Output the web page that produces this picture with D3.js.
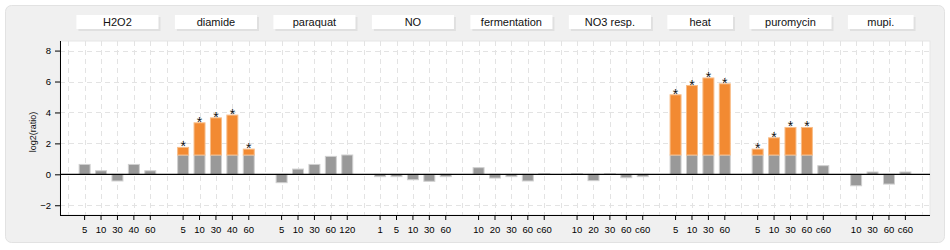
<!DOCTYPE html>
<html>
<head>
<meta charset="utf-8">
<script src="https://cdn.jsdelivr.net/npm/d3@7"></script>
<style>
  body { margin: 0; background: #fff; }
  svg { display: block; font-family: "Liberation Sans", Arial, sans-serif; }
</style>
</head>
<body>
<div id="chart"></div>
<script>
// conditions and their time points
let groupNames = ['H2O2', 'diamide', 'paraquat', 'NO', 'fermentation', 'NO3 resp.', 'heat', 'puromycin', 'mupi.']
let timeLabels = [
  ['5', '10', '30', '40', '60'],
  ['5', '10', '30', '40', '60'],
  ['5', '10', '30', '60', '120'],
  ['1', '5', '10', '30', '60'],
  ['10', '20', '30', '60', 'c60'],
  ['10', '20', '30', '60', 'c60'],
  ['5', '10', '30', '60'],
  ['5', '10', '30', '60', 'c60'],
  ['10', '30', '60', 'c60']
]
let logRatios = [
  [0.64, 0.23, -0.43, 0.64, 0.23],
  [1.74, 3.33, 3.65, 3.83, 1.63],
  [-0.54, 0.34, 0.64, 1.16, 1.25],
  [-0.15, -0.15, -0.35, -0.45, -0.15],
  [0.43, -0.24, -0.15, -0.43, 0.05],
  [0.04, -0.41, 0.04, -0.22, -0.15],
  [5.14, 5.74, 6.23, 5.85],
  [1.63, 2.36, 3.03, 3.03, 0.56],
  [-0.74, 0.15, -0.63, 0.15]
]
let significant = [
  [0, 0, 0, 0, 0],
  [1, 1, 1, 1, 1],
  [0, 0, 0, 0, 0],
  [0, 0, 0, 0, 0],
  [0, 0, 0, 0, 0],
  [0, 0, 0, 0, 0],
  [1, 1, 1, 1],
  [1, 1, 1, 1, 0],
  [0, 0, 0, 0]
]
let threshold = 1.25
let yTicks = [-2, 0, 2, 4, 6, 8]

let width = 950, height = 250
let plotLeft = 60, plotRight = 930, plotTop = 41, plotBottom = 215

let grayColor = '#999999'
let orangeColor = '#f28a32'

// build slots: one empty slot before each group and one at the end
let slots = []
let bars = []
groupNames.forEach(function (g, gi) {
  slots.push('gap' + gi)
  timeLabels[gi].forEach(function (t, ti) {
    let key = g + '|' + t
    slots.push(key)
    bars.push({ key: key, label: t, group: gi, value: logRatios[gi][ti], sig: significant[gi][ti] })
  })
})
slots.push('gapEnd')

let x = d3.scaleBand().domain(slots).range([plotLeft, plotRight]).paddingInner(0.27).paddingOuter(0.135)
let step = x.step()
let y = d3.scaleLinear().domain([-2.63, 8.62]).range([plotBottom, plotTop])
let cx = function (k) { return x(k) + x.bandwidth() / 2 }

let svg = d3.select('#chart').append('svg')
  .attr('width', width)
  .attr('height', height)

// outer panel
svg.append('rect')
  .attr('x', 5.5).attr('y', 5.5)
  .attr('width', 939).attr('height', 237)
  .attr('rx', 6)
  .style('fill', '#f0f0f0')
  .style('stroke', '#e2e2e2')

// plot background
svg.append('rect')
  .attr('x', plotLeft).attr('y', plotTop)
  .attr('width', plotRight - plotLeft).attr('height', plotBottom - plotTop)
  .style('fill', '#fff')
  .style('stroke', '#e6e6e6')

// group label boxes
let boxes = svg.selectAll('.gbox')
  .data(groupNames)
  .enter()
  .append('g')
  .attr('class', 'gbox')
boxes.each(function (g, gi) {
  let first = g + '|' + timeLabels[gi][0]
  let last = g + '|' + timeLabels[gi][timeLabels[gi].length - 1]
  let x0 = cx(first) - step / 2
  let x1 = cx(last) + step / 2
  let sel = d3.select(this)
  sel.append('rect')
    .attr('x', x0 + 2).attr('y', 17)
    .attr('width', x1 - x0).attr('height', 14)
    .style('fill', '#e0e0e0')
  sel.append('rect')
    .attr('x', x0).attr('y', 15)
    .attr('width', x1 - x0).attr('height', 14)
    .style('fill', '#fff')
  sel.append('text')
    .attr('x', (x0 + x1) / 2).attr('y', 26)
    .attr('text-anchor', 'middle')
    .style('font-size', '11px')
    .style('fill', '#111')
    .text(g)
})

// grid lines
svg.selectAll('.vgrid')
  .data(slots)
  .enter()
  .append('line')
  .attr('x1', function (d) { return Math.round(cx(d)) + 0.5 })
  .attr('x2', function (d) { return Math.round(cx(d)) + 0.5 })
  .attr('y1', plotTop).attr('y2', plotBottom)
  .style('stroke', '#e3e3e3')
  .style('stroke-dasharray', '5,4')

svg.selectAll('.hgrid')
  .data(yTicks.filter(function (d) { return d !== 0 }))
  .enter()
  .append('line')
  .attr('x1', plotLeft).attr('x2', plotRight)
  .attr('y1', function (d) { return Math.round(y(d)) + 0.5 })
  .attr('y2', function (d) { return Math.round(y(d)) + 0.5 })
  .style('stroke', '#e3e3e3')
  .style('stroke-dasharray', '5,4')

// gray part of each bar
svg.selectAll('.gray')
  .data(bars)
  .enter()
  .append('rect')
  .attr('x', function (d) { return x(d.key) + 0.5 })
  .attr('width', x.bandwidth() - 1)
  .attr('y', function (d) { let v = d.sig ? threshold : d.value; return y(Math.max(v, 0)) })
  .attr('height', function (d) { let v = d.sig ? threshold : d.value; return Math.max(Math.abs(y(v) - y(0)), 0.5) })
  .style('fill', grayColor)
  .style('stroke', '#d0d0d0')

// orange part above threshold
svg.selectAll('.orange')
  .data(bars.filter(function (d) { return d.sig }))
  .enter()
  .append('rect')
  .attr('x', function (d) { return x(d.key) + 0.5 })
  .attr('width', x.bandwidth() - 1)
  .attr('y', function (d) { return y(d.value) })
  .attr('height', function (d) { return y(threshold) - y(d.value) })
  .style('fill', orangeColor)
  .style('stroke', '#f8bd88')

// asterisks
svg.selectAll('.star')
  .data(bars.filter(function (d) { return d.sig }))
  .enter()
  .append('text')
  .attr('x', function (d) { return cx(d.key) })
  .attr('y', function (d) { return y(d.value) + 4 })
  .attr('text-anchor', 'middle')
  .style('font-size', '14px')
  .style('fill', '#111')
  .text('*')

// zero line
svg.append('line')
  .attr('x1', plotLeft).attr('x2', plotRight)
  .attr('y1', y(0)).attr('y2', y(0))
  .style('stroke', '#000')
  .style('stroke-width', 1.3)

// y axis
let yAxis = d3.axisLeft(y).tickValues(yTicks).tickSize(5).tickPadding(4)
let yg = svg.append('g')
  .attr('transform', 'translate(' + plotLeft + ',0)')
  .call(yAxis)
yg.select('.domain').attr('d', 'M0.5,' + plotTop + 'V' + (plotBottom + 0.5))
yg.selectAll('text').style('font-size', '9.5px').style('font-family', '"Liberation Sans", Arial, sans-serif').style('fill', '#000')

// x axis, ticks only on bars
let xAxis = d3.axisBottom(x)
  .tickValues(bars.map(function (d) { return d.key }))
  .tickFormat(function (k) { return k.split('|')[1] })
  .tickSize(5).tickPadding(6)
let xg = svg.append('g')
  .attr('transform', 'translate(0,' + plotBottom + ')')
  .call(xAxis)
xg.select('.domain').attr('d', 'M' + plotLeft + ',0.5H' + plotRight)
xg.selectAll('text').style('font-size', '9.5px').style('font-family', '"Liberation Sans", Arial, sans-serif').style('fill', '#000')

// axis title
svg.append('text')
  .attr('transform', 'translate(36,' + ((plotTop + plotBottom) / 2 + 4) + ') rotate(-90)')
  .attr('text-anchor', 'middle')
  .style('font-size', '9px')
  .style('fill', '#111')
  .text('log2(ratio)')
</script>
</body>
</html>
